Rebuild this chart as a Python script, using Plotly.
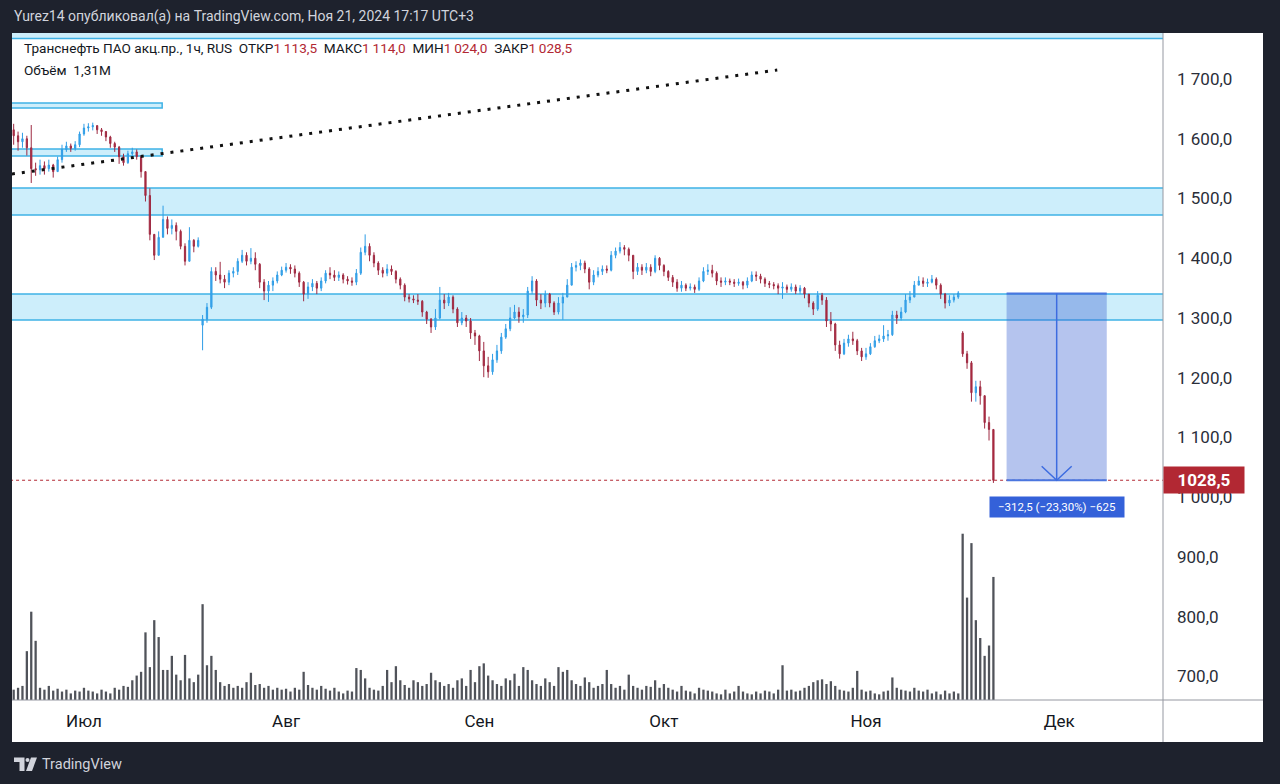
import numpy as np
import plotly.graph_objects as go

# ---------------- data (half-session bars, x = trading sessions from 1 Jul 2024) ----------------
FIRST_BAR = -8.0
BAR_STEP = 0.5

OPEN = [
    1615, 1605, 1595, 1600, 1585, 1550, 1548, 1555, 1550, 1556,
    1545, 1565, 1582, 1588, 1584, 1590, 1608, 1618, 1620, 1622,
    1615, 1612, 1603, 1592, 1586, 1570, 1560, 1575, 1578, 1570,
    1545, 1505, 1440, 1405, 1435, 1465, 1450, 1455, 1445, 1420,
    1395, 1430, 1420, 1288, 1298, 1318, 1378, 1372, 1365, 1360,
    1375, 1378, 1395, 1405, 1395, 1400, 1390, 1360, 1345, 1355,
    1362, 1372, 1380, 1385, 1382, 1375, 1360, 1340, 1352, 1358,
    1350, 1362, 1375, 1372, 1368, 1372, 1365, 1362, 1360, 1375,
    1410, 1420, 1405, 1392, 1380, 1375, 1382, 1378, 1365, 1355,
    1335, 1332, 1330, 1328, 1310, 1298, 1285, 1300, 1330, 1325,
    1335, 1315, 1292, 1300, 1295, 1275, 1270, 1245, 1220, 1210,
    1230, 1245, 1268, 1282, 1300, 1310, 1302, 1305, 1345, 1362,
    1330, 1325, 1340, 1325, 1310, 1325, 1335, 1355, 1385, 1388,
    1392, 1382, 1360, 1372, 1378, 1382, 1380, 1405, 1412, 1418,
    1415, 1405, 1378, 1385, 1380, 1385, 1378, 1400, 1388, 1378,
    1368, 1360, 1350, 1355, 1350, 1352, 1348, 1362, 1378, 1380,
    1375, 1362, 1360, 1362, 1360, 1358, 1360, 1355, 1362, 1372,
    1370, 1365, 1358, 1356, 1354, 1350, 1352, 1348, 1352, 1345,
    1350, 1340, 1325, 1315, 1338, 1330, 1295, 1290, 1255, 1240,
    1258, 1265, 1262, 1245, 1235, 1240, 1252, 1262, 1265, 1270,
    1272, 1305, 1300, 1310, 1330, 1335, 1355, 1362, 1358, 1360,
    1365, 1355, 1340, 1325, 1330, 1335, 1275, 1240, 1225, 1175,
    1185, 1170, 1125, 1113.5,
]
HIGH = [
    1625, 1612, 1610, 1605, 1623, 1560, 1565, 1562, 1565, 1558,
    1570, 1590, 1595, 1592, 1596, 1612, 1625, 1626, 1627, 1622,
    1618, 1613, 1605, 1595, 1588, 1575, 1580, 1585, 1582, 1572,
    1545, 1517, 1440, 1445, 1488, 1470, 1465, 1460, 1448, 1425,
    1452, 1432, 1435, 1305, 1325, 1385, 1385, 1394, 1372, 1380,
    1385, 1400, 1414, 1410, 1417, 1410, 1392, 1365, 1362, 1368,
    1378, 1386, 1392, 1390, 1388, 1378, 1362, 1360, 1365, 1362,
    1368, 1380, 1385, 1380, 1378, 1375, 1370, 1368, 1382, 1418,
    1440, 1425, 1410, 1395, 1385, 1390, 1388, 1380, 1368, 1358,
    1340, 1338, 1340, 1330, 1312, 1300, 1315, 1352, 1340, 1342,
    1338, 1318, 1310, 1305, 1300, 1280, 1272, 1260, 1235, 1240,
    1255, 1275, 1290, 1318, 1322, 1318, 1315, 1352, 1370, 1365,
    1340, 1346, 1342, 1328, 1335, 1342, 1365, 1392, 1395, 1398,
    1396, 1385, 1380, 1385, 1388, 1388, 1412, 1418, 1427, 1422,
    1418, 1405, 1392, 1390, 1392, 1390, 1405, 1402, 1390, 1380,
    1372, 1365, 1362, 1358, 1358, 1356, 1368, 1385, 1390, 1389,
    1378, 1368, 1368, 1366, 1365, 1366, 1362, 1368, 1378, 1378,
    1374, 1368, 1362, 1360, 1358, 1360, 1356, 1358, 1356, 1355,
    1352, 1340, 1328, 1345, 1342, 1335, 1310, 1292, 1262, 1265,
    1272, 1277, 1265, 1250, 1250, 1258, 1270, 1272, 1288, 1280,
    1312, 1312, 1318, 1340, 1345, 1362, 1370, 1368, 1366, 1372,
    1368, 1358, 1342, 1338, 1340, 1345, 1278, 1245, 1228, 1195,
    1195, 1170, 1135, 1114.0,
]
LOW = [
    1590, 1580, 1585, 1572, 1526, 1538, 1540, 1540, 1545, 1535,
    1545, 1560, 1578, 1578, 1580, 1586, 1605, 1612, 1614, 1608,
    1605, 1596, 1585, 1578, 1558, 1555, 1558, 1568, 1565, 1535,
    1495, 1430, 1397, 1405, 1435, 1440, 1440, 1430, 1415, 1388,
    1395, 1410, 1418, 1246, 1292, 1315, 1362, 1358, 1350, 1355,
    1368, 1372, 1392, 1388, 1390, 1380, 1350, 1330, 1327, 1345,
    1358, 1370, 1376, 1374, 1368, 1352, 1328, 1332, 1345, 1340,
    1345, 1358, 1365, 1362, 1362, 1358, 1356, 1354, 1355, 1372,
    1405, 1395, 1385, 1372, 1368, 1370, 1372, 1358, 1348, 1328,
    1326, 1325, 1322, 1302, 1290, 1275, 1280, 1298, 1315, 1320,
    1308, 1285, 1288, 1285, 1265, 1255, 1228, 1201, 1200, 1205,
    1225, 1240, 1265, 1278, 1298, 1292, 1292, 1300, 1340, 1320,
    1315, 1318, 1318, 1305, 1306, 1297, 1335, 1355, 1378, 1380,
    1375, 1348, 1355, 1368, 1372, 1375, 1378, 1400, 1408, 1405,
    1395, 1365, 1372, 1372, 1375, 1370, 1375, 1380, 1370, 1362,
    1352, 1344, 1344, 1345, 1346, 1342, 1345, 1360, 1372, 1368,
    1355, 1352, 1355, 1355, 1352, 1354, 1348, 1350, 1360, 1362,
    1358, 1352, 1350, 1348, 1340, 1332, 1342, 1344, 1340, 1340,
    1333, 1318, 1305, 1312, 1322, 1285, 1278, 1245, 1232, 1238,
    1252, 1255, 1238, 1228, 1230, 1238, 1250, 1258, 1260, 1262,
    1270, 1290, 1296, 1308, 1325, 1335, 1355, 1352, 1352, 1358,
    1348, 1332, 1316, 1320, 1326, 1332, 1235, 1215, 1160, 1160,
    1155, 1115, 1095, 1024.0,
]
CLOSE = [
    1605, 1595, 1600, 1585, 1550, 1548, 1555, 1550, 1556, 1545,
    1565, 1582, 1588, 1584, 1590, 1608, 1618, 1620, 1622, 1615,
    1612, 1603, 1592, 1586, 1570, 1560, 1575, 1578, 1570, 1545,
    1505, 1440, 1405, 1435, 1465, 1450, 1455, 1445, 1420, 1395,
    1430, 1420, 1430, 1298, 1318, 1378, 1372, 1365, 1360, 1375,
    1378, 1395, 1405, 1395, 1400, 1390, 1360, 1345, 1355, 1362,
    1372, 1380, 1385, 1382, 1375, 1360, 1340, 1352, 1358, 1350,
    1362, 1375, 1372, 1368, 1372, 1365, 1362, 1360, 1375, 1410,
    1420, 1405, 1392, 1380, 1375, 1382, 1378, 1365, 1355, 1335,
    1332, 1330, 1328, 1310, 1298, 1285, 1300, 1330, 1325, 1335,
    1315, 1292, 1300, 1295, 1275, 1270, 1245, 1220, 1210, 1230,
    1245, 1268, 1282, 1300, 1310, 1302, 1305, 1345, 1362, 1330,
    1325, 1340, 1325, 1310, 1325, 1335, 1355, 1385, 1388, 1392,
    1382, 1360, 1372, 1378, 1382, 1380, 1405, 1412, 1418, 1415,
    1405, 1378, 1385, 1380, 1385, 1378, 1400, 1388, 1378, 1368,
    1360, 1350, 1355, 1350, 1352, 1348, 1362, 1378, 1380, 1375,
    1362, 1360, 1362, 1360, 1358, 1360, 1355, 1362, 1372, 1370,
    1365, 1358, 1356, 1354, 1350, 1352, 1348, 1352, 1345, 1350,
    1340, 1325, 1315, 1338, 1330, 1295, 1290, 1255, 1240, 1258,
    1265, 1262, 1245, 1235, 1240, 1252, 1262, 1265, 1270, 1272,
    1305, 1300, 1310, 1330, 1335, 1355, 1362, 1358, 1360, 1365,
    1355, 1340, 1325, 1330, 1335, 1342, 1240, 1225, 1175, 1185,
    1170, 1125, 1113.5, 1028.5,
]
# volume, in units of 10 000 shares
VOLUME = [
    11, 13, 15, 52, 94, 63, 13, 11, 15, 10,
    12, 9, 11, 7, 10, 9, 13, 10, 9, 7,
    11, 9, 7, 13, 11, 15, 14, 21, 26, 30,
    72, 35, 85, 67, 32, 32, 47, 27, 21, 48,
    23, 19, 27, 102, 37, 47, 32, 19, 15, 17,
    13, 15, 13, 19, 29, 16, 17, 13, 15, 11,
    13, 11, 12, 9, 13, 11, 30, 16, 13, 11,
    15, 12, 10, 13, 9, 7, 10, 9, 34, 32,
    23, 13, 11, 10, 15, 32, 19, 36, 21, 16,
    13, 21, 19, 15, 17, 29, 21, 19, 15, 17,
    13, 21, 23, 15, 32, 19, 36, 39, 26, 21,
    17, 15, 23, 21, 28, 15, 35, 32, 21, 17,
    15, 23, 19, 15, 35, 30, 32, 21, 17, 15,
    24, 19, 13, 15, 17, 32, 17, 13, 15, 11,
    27, 15, 13, 11, 15, 14, 21, 13, 17, 13,
    11, 9, 15, 10, 9, 7, 13, 11, 10, 9,
    7, 6, 11, 7, 9, 15, 9, 7, 6, 9,
    7, 10, 9, 7, 11, 37, 10, 11, 9, 10,
    13, 15, 19, 21, 22, 17, 20, 15, 11, 10,
    9, 13, 31, 11, 9, 10, 7, 6, 9, 10,
    24, 13, 11, 10, 9, 13, 10, 9, 11, 7,
    9, 6, 10, 7, 9, 7, 177, 109, 167, 85,
    66, 47, 58, 131,
]

MONTH_LABELS = ["Июл", "Авг", "Сен", "Окт", "Ноя", "Дек"]
MONTH_POS = [0, 23, 45, 66, 89, 111]
PRICE_TICKS = [700, 800, 900, 1000, 1100, 1200, 1300, 1400, 1500, 1600, 1700]

# drawings (price levels / session positions)
WIDE_ZONES = [(1768, 1790), (1472.4, 1517.6), (1296.7, 1340.2)]
SHORT_ZONES = [(1651.5, 1660.0), (1571.0, 1582.8)]
SHORT_ZONE_END = 8.9
TREND_T = [-8.2, 78.9]
TREND_P = [1541, 1715]
MEASURE_FROM = 1341.0
MEASURE_T = (105.0, 116.4)
TICK_SIZE = 0.5

# ---------------- styling ----------------
FONT = "Roboto, 'Open Sans', sans-serif"
BG = "#1e222d"
TXT = "#131722"
RED = "#b22833"
W, H = 1280, 784
ML, MR, MT, MB = 12, 117, 33, 84
PW, PH = W - ML - MR, H - MT - MB
X_RANGE = [-8.19, 122.8]
Y_RANGE = [660.7, 1777.0]
VOL_RANGE = [0, 710]


def px(x):
    return (x - ML) / PW


def py(y):
    return (H - MB - y) / PH


def fmt(v, sep="\u2009"):
    s = f"{v:,.1f}"
    return s.replace(",", "X").replace(".", ",").replace("X", sep)


n = len(CLOSE)
t = FIRST_BAR + BAR_STEP * np.arange(n)

fig = go.Figure()
fig.add_trace(go.Bar(
    x=t, y=VOLUME, yaxis="y2", width=0.26,
    marker=dict(color="#50535a", line=dict(width=0)), hoverinfo="skip",
))
fig.add_trace(go.Candlestick(
    x=t, open=OPEN, high=HIGH, low=LOW, close=CLOSE,
    increasing=dict(line=dict(color="#2f9de6", width=1), fillcolor="#45acef"),
    decreasing=dict(line=dict(color="#9e2a42", width=1), fillcolor="#b8283c"),
    whiskerwidth=0, hoverinfo="skip",
))
fig.add_trace(go.Scatter(
    x=TREND_T, y=TREND_P, mode="lines",
    line=dict(color="#111111", width=3, dash="3px,7px"), hoverinfo="skip",
))

shapes = []
# white chart panel incl. axes areas
shapes.append(dict(type="rect", xref="paper", yref="paper", x0=px(12), x1=px(1263),
                   y0=py(742), y1=py(33), fillcolor="white", line=dict(width=0), layer="below"))
ZONE_FILL = "#cdeefb"
ZONE_LINE = "#3fb2e6"
for lo, hi in WIDE_ZONES:
    shapes.append(dict(type="rect", xref="x", yref="y", x0=X_RANGE[0] - 5, x1=X_RANGE[1] + 5,
                       y0=lo, y1=hi, fillcolor=ZONE_FILL, line=dict(color=ZONE_LINE, width=1.5),
                       layer="below"))
for lo, hi in SHORT_ZONES:
    shapes.append(dict(type="rect", xref="x", yref="y", x0=X_RANGE[0] - 5, x1=SHORT_ZONE_END,
                       y0=lo, y1=hi, fillcolor=ZONE_FILL, line=dict(color=ZONE_LINE, width=1.5),
                       layer="below"))
# last price dotted line
last = CLOSE[-1]
shapes.append(dict(type="line", xref="x", yref="y", x0=X_RANGE[0] - 5, x1=X_RANGE[1] + 5,
                   y0=last, y1=last, line=dict(color=RED, width=1, dash="dot")))
# measure tool
m0, m1 = MEASURE_T
mc = (m0 + m1) / 2
shapes.append(dict(type="rect", xref="x", yref="y", x0=m0, x1=m1, y0=last, y1=MEASURE_FROM,
                   fillcolor="rgba(60,100,210,0.38)", line=dict(width=0)))
for lvl in (MEASURE_FROM, last):
    shapes.append(dict(type="line", xref="x", yref="y", x0=m0, x1=m1, y0=lvl, y1=lvl,
                       line=dict(color="#4a76df", width=2)))
shapes.append(dict(type="line", xref="x", yref="y", x0=mc, x1=mc, y0=MEASURE_FROM, y1=last,
                   line=dict(color="#3d6ce0", width=1.5)))
px_per_t = PW / (X_RANGE[1] - X_RANGE[0])
px_per_p = PH / (Y_RANGE[1] - Y_RANGE[0])
dx, dy = 15 / px_per_t, 14 / px_per_p
shapes.append(dict(type="path", xref="x", yref="y",
                   path=f"M {mc-dx},{last+dy} L {mc},{last} L {mc+dx},{last+dy}",
                   line=dict(color="#3d6ce0", width=1.5)))
# axis dividers
shapes.append(dict(type="line", xref="paper", yref="paper", x0=1, x1=1, y0=py(742), y1=py(33),
                   line=dict(color="#9598a1", width=1)))
shapes.append(dict(type="line", xref="paper", yref="paper", x0=0, x1=px(1263), y0=0, y1=0,
                   line=dict(color="#9598a1", width=1)))
# TradingView logo
LOGO = "#d1d4dc"
shapes.append(dict(type="path", xref="paper", yref="paper",
                   path=(f"M {px(14)},{py(757.5)} L {px(24.5)},{py(757.5)} L {px(24.5)},{py(771)} "
                         f"L {px(19.5)},{py(771)} L {px(19.5)},{py(762)} L {px(14)},{py(762)} Z"),
                   fillcolor=LOGO, line=dict(width=0)))
shapes.append(dict(type="circle", xref="paper", yref="paper", x0=px(25.5), x1=px(29.5),
                   y0=py(762), y1=py(758), fillcolor=LOGO, line=dict(width=0)))
shapes.append(dict(type="path", xref="paper", yref="paper",
                   path=(f"M {px(31)},{py(757.5)} L {px(37)},{py(757.5)} L {px(32)},{py(771)} "
                         f"L {px(26)},{py(771)} Z"),
                   fillcolor=LOGO, line=dict(width=0)))

annotations = []
annotations.append(dict(xref="paper", yref="paper", x=px(12), y=py(16), xanchor="left", yanchor="middle",
                        text="Yurez14 опубликовал(а) на TradingView.com, Ноя 21, 2024 17:17 UTC+3",
                        showarrow=False, font=dict(family=FONT, size=14, color="#d1d4dc")))
sp = "\u00a0\u00a0"


def rv(v):
    return f"<span style='color:{RED}'>{fmt(v)}</span>"


legend = (f"Транснефть ПАО акц.пр., 1ч, RUS{sp}ОТКР{rv(OPEN[-1])}{sp}МАКС{rv(HIGH[-1])}"
          f"{sp}МИН{rv(LOW[-1])}{sp}ЗАКР{rv(CLOSE[-1])}")
annotations.append(dict(xref="paper", yref="paper", x=px(22), y=py(48), xanchor="left", yanchor="middle",
                        text=legend, showarrow=False, font=dict(family=FONT, size=13.6, color=TXT)))
vol_m = VOLUME[-1] * 1e4 / 1e6
annotations.append(dict(xref="paper", yref="paper", x=px(22), y=py(70), xanchor="left", yanchor="middle",
                        text=f"Объём{sp}{vol_m:.2f}".replace(".", ",") + "M", showarrow=False,
                        font=dict(family=FONT, size=13.6, color=TXT)))
diff = last - MEASURE_FROM
pct = diff / MEASURE_FROM * 100
mlabel = (f"{fmt(diff).replace('-', '−')} ({pct:.2f}%)".replace(".", ",").replace("-", "−")
          + f" {'−' if diff < 0 else ''}{abs(diff) / TICK_SIZE:.0f}")
annotations.append(dict(xref="x", yref="y", x=mc, y=last, xanchor="center", yanchor="top", yshift=-16,
                        text=mlabel, showarrow=False, bgcolor="#3461d9", borderpad=3, width=128,
                        font=dict(family=FONT, size=11.5, color="white")))
annotations.append(dict(xref="paper", yref="y", x=1, y=last, xanchor="left", yanchor="middle",
                        text=f"<b>{fmt(last, sep='')}</b>", showarrow=False, bgcolor=RED,
                        borderpad=3, width=74, align="center",
                        font=dict(family=FONT, size=17, color="white")))
annotations.append(dict(xref="paper", yref="paper", x=px(40), y=py(764), xanchor="left", yanchor="middle",
                        text="TradingView", showarrow=False,
                        font=dict(family=FONT, size=14.5, color="#d1d4dc")))

fig.update_layout(
    width=W, height=H,
    margin=dict(l=ML, r=MR, t=MT, b=MB, pad=0),
    paper_bgcolor=BG, plot_bgcolor="white",
    showlegend=False, boxgap=0.6,
    font=dict(family=FONT),
    xaxis=dict(range=X_RANGE, tickmode="array", tickvals=MONTH_POS, ticktext=MONTH_LABELS,
               showgrid=False, zeroline=False, showline=False, ticks="",
               tickfont=dict(family=FONT, size=17, color=TXT), rangeslider=dict(visible=False),
               ticklabelstandoff=9, fixedrange=True),
    yaxis=dict(range=Y_RANGE, side="right", tickmode="array", tickvals=PRICE_TICKS,
               ticktext=[fmt(v, sep=" ") for v in PRICE_TICKS], showgrid=False, zeroline=False,
               showline=False, ticks="", tickfont=dict(family=FONT, size=17, color="#2a2e39"),
               ticklabelstandoff=13, fixedrange=True),
    yaxis2=dict(range=VOL_RANGE, overlaying="y", visible=False, fixedrange=True),
    shapes=shapes, annotations=annotations,
)
fig.write_html(
    "out.html",
    config={"displayModeBar": False},
    post_script=("document.body.style.margin='0';document.body.style.padding='0';"
                 "document.body.style.overflow='hidden';"
                 "document.body.style.background='#1e222d';"),
)
